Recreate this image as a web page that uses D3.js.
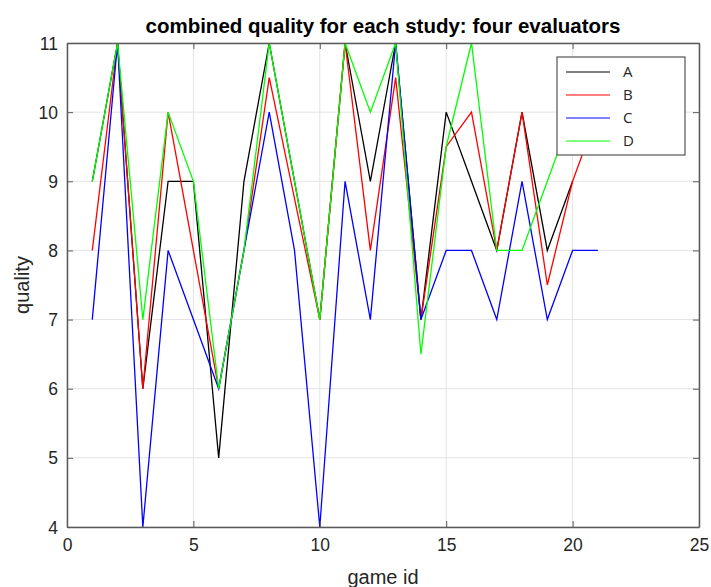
<!DOCTYPE html>
<html>
<head>
<meta charset="utf-8">
<script src="https://cdn.jsdelivr.net/npm/d3@7"></script>
<style>
  body { margin: 0; background: #fff; }
  svg { font-family: "Liberation Sans", Arial, sans-serif; }
</style>
</head>
<body>
<svg id="chart"></svg>
<script>
const WIDTH = 711;
const HEIGHT = 587;

const gameIds = d3.range(1, 22);
const seriesNames = ['A', 'B', 'C', 'D'];
const seriesColors = ['#000000', '#ff0000', '#0000ff', '#00ff00'];

const evalA = [9, 11, 6, 9, 9, 5, 9, 11, 9, 7, 11, 9, 11, 7, 10, 9, 8, 10, 8, 9];
const evalB = [8, 11, 6, 10, 8, 6, 8, 10.5, 8.75, 7, 11, 8, 10.5, 7, 9.5, 10, 8, 10, 7.5, 9, 10];
const evalC = [7, 11, 4, 8, 7, 6, 8, 10, 8, 4, 9, 7, 11, 7, 8, 8, 7, 9, 7, 8, 8];
const evalD = [9, 11, 7, 10, 9, 6, 8, 11, 9, 7, 11, 10, 11, 6.5, 9.5, 11, 8, 8, 9, 10];

const xTicks = [0, 5, 10, 15, 20, 25];
const yTicks = [4, 5, 6, 7, 8, 9, 10, 11];

const margin = { left: 67, right: 12, top: 43, bottom: 60 };
const innerW = WIDTH - margin.left - margin.right;
const innerH = HEIGHT - margin.top - margin.bottom;

const svg = d3.select('#chart')
  .attr('width', WIDTH)
  .attr('height', HEIGHT);

const g = svg.append('g')
  .attr('transform', `translate(${margin.left},${margin.top})`);

const xScale = d3.scaleLinear().domain([0, 25]).range([0, innerW]);
const yScale = d3.scaleLinear().domain([4, 11]).range([innerH, 0]);

// grid
g.append('g')
  .selectAll('line.gx')
  .data(xTicks)
  .enter()
  .append('line')
  .attr('x1', d => xScale(d))
  .attr('x2', d => xScale(d))
  .attr('y1', 0)
  .attr('y2', innerH)
  .attr('stroke', '#e3e3e3')
  .attr('stroke-width', 1);

g.append('g')
  .selectAll('line.gy')
  .data(yTicks)
  .enter()
  .append('line')
  .attr('x1', 0)
  .attr('x2', innerW)
  .attr('y1', d => yScale(d))
  .attr('y2', d => yScale(d))
  .attr('stroke', '#e3e3e3')
  .attr('stroke-width', 1);

// lines
const allSeries = [evalA, evalB, evalC, evalD];
const line = d3.line()
  .x((d, i) => xScale(gameIds[i]))
  .y(d => yScale(d));

allSeries.forEach((vals, i) => {
  g.append('path')
    .datum(vals)
    .attr('fill', 'none')
    .attr('stroke', seriesColors[i])
    .attr('stroke-width', 1.3)
    .attr('stroke-linejoin', 'miter')
    .attr('d', line);
});

// axes with inward ticks, box on
const axisColor = '#5a5a5a';
const tickFont = 17.5;

const bottomAxis = d3.axisBottom(xScale).tickValues(xTicks).tickFormat(d3.format('d'))
  .tickSizeInner(-6).tickSizeOuter(0).tickPadding(12);
const leftAxis = d3.axisLeft(yScale).tickValues(yTicks).tickFormat(d3.format('d'))
  .tickSizeInner(-6).tickSizeOuter(0).tickPadding(12);
const topAxis = d3.axisTop(xScale).tickValues(xTicks).tickSizeInner(-6).tickSizeOuter(0).tickFormat('');
const rightAxis = d3.axisRight(yScale).tickValues(yTicks).tickSizeInner(-6).tickSizeOuter(0).tickFormat('');

const gx = g.append('g').attr('transform', `translate(0,${innerH})`).call(bottomAxis);
const gy = g.append('g').call(leftAxis);
const gt = g.append('g').call(topAxis);
const gr = g.append('g').attr('transform', `translate(${innerW},0)`).call(rightAxis);

[gx, gy, gt, gr].forEach(a => {
  a.select('.domain').attr('stroke', axisColor).attr('stroke-width', 1.5);
  a.selectAll('.tick line').attr('stroke', axisColor).attr('stroke-width', 1);
  a.selectAll('.tick text')
    .attr('fill', '#262626')
    .style('font-size', tickFont + 'px')
    .style('font-family', '"Liberation Sans", Arial, sans-serif');
});
gx.selectAll('.tick text').attr('dy', '0.71em');
gy.selectAll('.tick text').attr('dy', '0.35em').attr('dx', '3');

// title and labels
svg.append('text')
  .attr('x', 383)
  .attr('y', 33)
  .attr('text-anchor', 'middle')
  .attr('font-weight', 'bold')
  .attr('font-size', 20.5)
  .attr('fill', '#000')
  .text('combined quality for each study: four evaluators');

svg.append('text')
  .attr('x', 383)
  .attr('y', 584)
  .attr('text-anchor', 'middle')
  .attr('font-size', 20)
  .attr('fill', '#262626')
  .text('game id');

svg.append('text')
  .attr('transform', `translate(29,${margin.top + innerH / 2}) rotate(-90)`)
  .attr('text-anchor', 'middle')
  .attr('font-size', 20)
  .attr('fill', '#262626')
  .text('quality');

// legend
const legX = 557, legY = 57, legW = 128, legH = 98;
const legend = svg.append('g');
legend.append('rect')
  .attr('x', legX)
  .attr('y', legY)
  .attr('width', legW)
  .attr('height', legH)
  .attr('fill', '#fff')
  .attr('stroke', '#555')
  .attr('stroke-width', 1.2);

const legRow = legend.selectAll('g.row')
  .data(seriesNames)
  .enter()
  .append('g')
  .attr('transform', (d, i) => `translate(${legX}, ${legY + 15 + i * 23})`);

legRow.append('line')
  .attr('x1', 9)
  .attr('x2', 53)
  .attr('y1', 0)
  .attr('y2', 0)
  .attr('stroke', (d, i) => seriesColors[i])
  .attr('stroke-width', 1.2);

legRow.append('text')
  .attr('x', 66)
  .attr('y', 0)
  .attr('dy', '0.35em')
  .attr('font-size', 15)
  .attr('fill', '#262626')
  .style('font-family', '"Open Sans", "DejaVu Sans", sans-serif')
  .text(d => d);
</script>
</body>
</html>
